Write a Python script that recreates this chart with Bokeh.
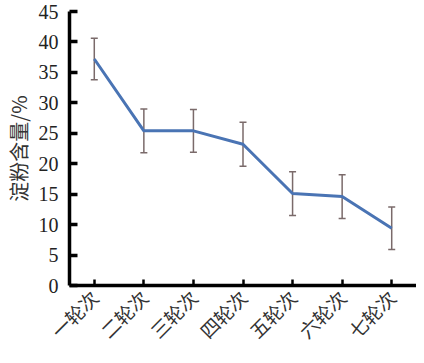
import math
from bokeh.plotting import figure
from bokeh.models import ColumnDataSource, Whisker, TeeHead, FactorRange, Range1d, FixedTicker
from bokeh.embed import file_html
from bokeh.resources import INLINE

categories = ["一轮次", "二轮次", "三轮次", "四轮次", "五轮次", "六轮次", "七轮次"]
starch = [37.2, 25.4, 25.4, 23.2, 15.1, 14.6, 9.4]
errors = [3.4, 3.6, 3.5, 3.6, 3.6, 3.6, 3.5]
y_ticks = [0, 5, 10, 15, 20, 25, 30, 35, 40, 45]

src = ColumnDataSource(dict(
    x=categories, y=starch,
    upper=[m + e for m, e in zip(starch, errors)],
    lower=[m - e for m, e in zip(starch, errors)],
))

p = figure(width=416, height=355, x_range=FactorRange(*categories, range_padding=0),
           y_range=Range1d(0, 45), output_backend="svg", toolbar_location=None,
           min_border_left=58, min_border_right=0, min_border_top=11, min_border_bottom=66)
p.outline_line_color = None
p.xgrid.grid_line_color = None
p.ygrid.grid_line_color = None
p.background_fill_color = "white"
p.border_fill_color = "white"

err_color = "#7a6a6a"
w = Whisker(base="x", upper="upper", lower="lower", source=src, line_color=err_color, line_width=1.5,
            upper_head=TeeHead(size=7, line_color=err_color, line_width=1.5),
            lower_head=TeeHead(size=7, line_color=err_color, line_width=1.5))
p.add_layout(w)
p.line("x", "y", source=src, line_color="#4a74b4", line_width=3)

p.yaxis.ticker = FixedTicker(ticks=y_ticks)
p.yaxis.axis_line_width = 3.5
p.yaxis.axis_line_color = "black"
p.yaxis.major_tick_in = 8
p.yaxis.major_tick_out = 0
p.yaxis.major_tick_line_width = 3.5
p.yaxis.minor_tick_line_color = None
p.yaxis.major_label_text_font = "Liberation Serif"
p.yaxis.major_label_text_font_size = "20px"
p.yaxis.major_label_text_color = "#222222"
p.yaxis.major_label_standoff = 11
p.yaxis.axis_label = "淀粉含量/%"
p.yaxis.axis_label_text_font = "Noto Sans CJK SC"
p.yaxis.axis_label_text_font_style = "normal"
p.yaxis.axis_label_text_font_size = "20px"
p.yaxis.axis_label_text_color = "#333333"
p.yaxis.axis_label_standoff = 3

p.xaxis.axis_line_width = 3.5
p.xaxis.axis_line_color = "black"
p.xaxis.major_tick_in = 6
p.xaxis.major_tick_out = 0
p.xaxis.major_tick_line_width = 2.5
p.xaxis.major_label_orientation = math.pi / 4
p.xaxis.major_label_text_font = "Noto Sans CJK SC"
p.xaxis.major_label_text_font_size = "19px"
p.xaxis.major_label_text_color = "#333333"
p.xaxis.major_label_standoff = 8

open("out.html", "w").write(file_html(p, INLINE))
